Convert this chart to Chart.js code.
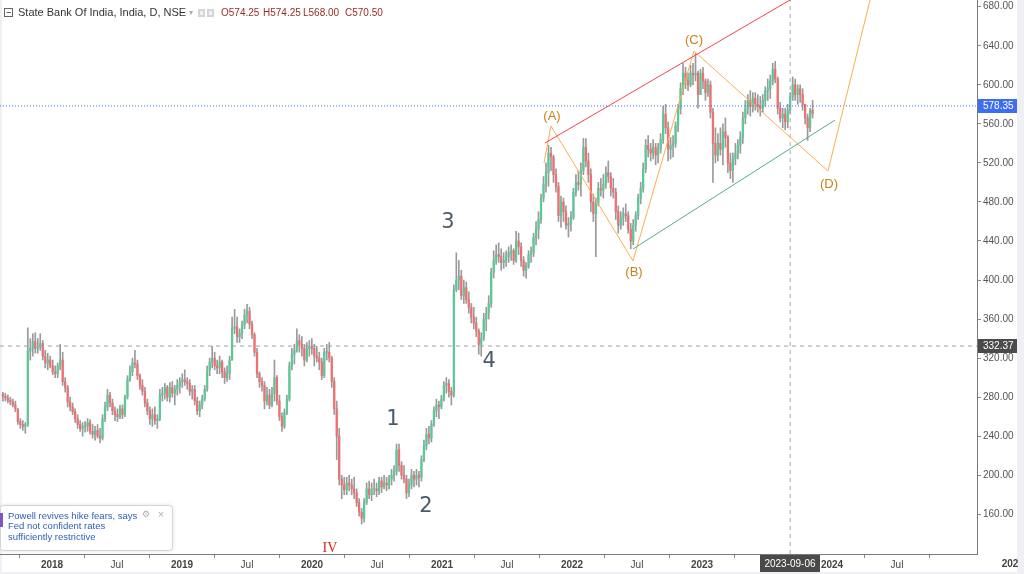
<!DOCTYPE html>
<html>
<head>
<meta charset="utf-8">
<script src="https://cdn.jsdelivr.net/npm/chart.js@4.4.0/dist/chart.umd.min.js"></script>
<style>
  html, body { margin: 0; padding: 0; background: #fff; }
</style>
</head>
<body>
<canvas id="sbiChart" width="1024" height="574"></canvas>
<script>
// --- data (weekly candles: [high, low, close], open = previous close) ---
const firstWeek = Date.UTC(2017, 7, 14);
const firstOpen = 283;

const w2017 = [
  [285,276,281],[284,276,279],[282,274,277],[280,272,275],[278,270,272],[276,265,268],[268,252,255],[258,248,252],[256,246,250],[254,243,252],
  [351,250,327],[340,318,330],[345,322,337],[346,325,330],[340,325,332],[345,328,335],[338,318,322],[328,310,315],[325,308,318],[322,310,312]
];
const w2018 = [
  [318,303,306],[312,300,304],[315,300,312],[334,308,318],[326,292,296],[300,285,290],[292,270,275],[280,266,270],[274,262,265],[268,254,258],
  [262,248,252],[256,245,248],[254,240,250],[255,244,250],[258,245,254],[257,242,245],[252,238,242],[250,236,246],[252,238,240],[248,233,238],
  [262,236,258],[275,255,270],[288,266,282],[285,270,274],[278,262,266],[270,256,262],[268,255,260],[272,258,268],[272,258,262],[282,260,280],
  [302,278,298],[312,296,306],[320,302,315],[328,310,314],[318,298,302],[304,288,292],[298,282,286],[290,270,274],[278,262,266],[270,252,258],
  [268,250,262],[270,252,256],[262,248,258],[288,256,282],[290,276,284],[294,278,290],[292,276,280],[295,275,290],[296,280,284],[292,272,288],
  [298,282,292],[300,284,296]
];
const w2019 = [
  [304,290,298],[308,292,296],[300,288,294],[298,282,286],[292,278,288],[292,272,276],[280,262,266],[276,260,272],[282,268,278],[292,276,288],
  [312,286,308],[320,302,316],[332,310,320],[326,308,312],[318,304,310],[322,304,316],[318,300,306],[310,294,300],[312,296,304],[322,298,318],
  [362,318,350],[370,345,352],[362,336,342],[350,336,346],[358,340,354],[370,350,364],[375,356,368],[372,350,355],[358,340,344],[346,322,326],
  [330,300,304],[306,290,296],[300,286,292],[296,268,276],[290,272,282],[288,268,272],[290,270,284],[318,276,300],[302,272,276],[282,256,260],
  [264,245,250],[268,248,264],[282,262,278],[316,276,312],[330,308,324],[334,314,328],[350,326,338],[344,326,334],[342,322,330],[334,312,318],
  [336,316,330],[338,322,332]
];
const w2020 = [
  [340,324,330],[334,312,322],[332,316,320],[326,308,316],[320,298,302],[330,300,326],[334,318,326],[336,316,320],[322,290,296],[300,262,268],
  [276,216,240],[248,190,196],[200,176,190],[198,180,185],[198,180,192],[200,184,190],[196,180,186],[198,176,182],[186,168,172],[176,158,162],
  [166,150,156],[176,152,172],[192,170,186],[194,176,180],[192,174,186],[196,180,186],[192,178,184],[198,180,194],[198,182,188],[200,186,192],
  [198,184,190],[200,186,196],[206,190,200],[210,194,204],[232,200,226],[232,204,210],[214,196,200],[210,192,196],[200,176,182],[196,178,190],
  [206,186,200],[204,188,196],[206,190,200],[204,188,198],[220,194,216],[236,214,230],[248,226,242],[250,232,238],[256,234,252],[270,250,266],
  [278,260,272],[276,258,270]
];
const w2021 = [
  [282,268,278],[296,276,292],[300,284,294],[298,280,286],[290,272,282],[395,280,390],[428,388,400],[420,390,404],[410,380,384],[400,376,392],
  [398,376,380],[388,366,372],[376,356,362],[372,350,356],[362,342,348],[350,324,334],[346,322,340],[366,338,360],[372,348,366],[384,360,376],
  [412,372,408],[430,402,420],[436,416,426],[438,418,424],[432,410,418],[428,412,420],[430,414,424],[434,418,428],[436,420,430],[432,416,420],
  [450,418,440],[448,426,434],[438,414,420],[424,404,410],[418,402,414],[430,412,426],[434,418,428],[448,424,444],[460,436,452],[470,442,462],
  [488,458,484],[506,480,498],[520,490,510],[538,496,530],[536,512,526],[528,500,508],[514,490,496],[500,460,466],[486,454,480],[484,460,470],
  [476,452,456],[464,444,458]
];
const w2022 = [
  [470,450,464],[494,462,490],[508,486,500],[512,492,498],[520,486,512],[545,508,536],[545,516,522],[530,500,508],[514,470,480],[488,460,468],
  [484,424,478],[500,476,494],[504,486,492],[508,484,498],[516,494,510],[522,500,506],[510,486,494],[504,484,490],[494,462,470],[476,448,456],
  [470,452,464],[474,456,468],[478,460,466],[470,448,452],[458,432,440],[462,436,456],[470,450,466],[488,462,484],[500,478,494],[520,490,514],
  [544,510,538],[548,526,534],[540,522,530],[544,524,536],[540,518,528],[540,520,534],[550,530,544],[578,540,570],[580,550,556],[562,522,534],
  [546,524,538],[548,526,540],[562,536,558],[580,552,576],[602,570,596],[622,590,612],[618,596,604],[612,594,600],[620,598,612],[622,600,610],
  [632,604,612],[614,576,590]
];
const w2023 = [
  [616,590,612],[618,596,604],[606,584,592],[606,588,600],[604,566,572],[576,500,540],[556,520,528],[550,522,540],[556,528,534],[560,518,552],
  [566,536,546],[548,510,520],[530,504,512],[530,500,524],[540,518,530],[544,524,538],[552,530,546],[572,540,566],[584,560,576],[590,570,584],
  [594,568,578],[592,572,586],[592,574,580],[590,572,578],[588,568,576],[590,572,584],[598,578,594],[606,584,596],[610,586,604],[622,600,616],
  [624,602,606],[608,570,576],[582,562,566],[576,556,570],[576,554,562],[580,556,574],[592,570,588],[608,584,600],[606,584,590],[600,580,596],
  [600,582,590],[596,574,580],[580,560,566],[570,543,556],[576,552,574],[584,566,570.5]
];

// drawings (x in years, y in price)
const redTrend = [[2021.792, 540.4], [2023.754, 692.9]];
const greenTrend = [[2022.469, 431.8], [2024.023, 563.9]];
const orangeWave = [[2021.785, 520.0], [2021.838, 557.9], [2022.469, 419.6], [2022.938, 634.6], [2023.969, 511.7], [2024.308, 695.2]];
const numberLabels = [['1', 2020.623, 256.6], ['2', 2020.877, 167.5], ['3', 2021.046, 458.4], ['4', 2021.362, 316.0]];
const letterLabels = [['(A)', 2021.846, 568.0], ['(B)', 2022.477, 408.2], ['(C)', 2022.938, 645.9], ['(D)', 2023.977, 498.4]];
const romanLabel = ['IV', 2020.138, 125.5];

const lastPrice = 578.35;
const markedPrice = 332.37;
const cursorDate = '2023-09-06';

const yTickValues = [160, 200, 240, 280, 320, 360, 400, 440, 480, 520, 560, 600, 640, 680];
const xTickValues = [2018, 2018.5, 2019, 2019.5, 2020, 2020.5, 2021, 2021.5, 2022, 2022.5, 2023, 2023.5, 2024, 2024.5];
const xTickLabels = ['2018', 'Jul', '2019', 'Jul', '2020', 'Jul', '2021', 'Jul', '2022', 'Jul', '2023', 'Jul', '2024', 'Jul'];

const titleText = 'State Bank Of India, India, D, NSE';
const ohlcText = ['O574.25', 'H574.25', 'L568.00', 'C570.50'];
const newsLines = ['Powell revives hike fears, says', 'Fed not confident rates', 'sufficiently restrictive'];

// --- build ---
const DAY = 86400000;
function toYear(ms) { return 1970 + ms / (365.25 * DAY); }
const candles = [...w2017, ...w2018, ...w2019, ...w2020, ...w2021, ...w2022, ...w2023];

const wickData = [], bodyData = [], bodyColors = [];
let prevClose = firstOpen;
candles.forEach(([h, l, c], i) => {
    const x = toYear(firstWeek + (i * 7 + 2) * DAY);
    wickData.push({ x: x, y: [l, h] });
    bodyData.push({ x: x, y: [prevClose, c] });
    bodyColors.push(c >= prevClose ? '#5cc898' : '#ee7070');
    prevClose = c;
});

const xMin = 2017.6, xMax = 2017.6 + 977 / 130;
const yMin = 119.3, yMax = 686.9;
const cursorYear = toYear(Date.parse(cursorDate));
const pts = arr => arr.map(p => ({ x: p[0], y: p[1] }));

function lineSet(data, color, dash, order) {
    return { type: 'line', data: data, borderColor: color, borderWidth: 1, borderDash: dash || [],
             pointRadius: 0, tension: 0, order: order || 1 };
}

const FONT = '"Liberation Sans", Arial, sans-serif';

const overlay = {
    id: 'overlay',
    beforeDraw(chart) {
        const c = chart.ctx;
        c.save();
        c.fillStyle = '#fff';
        c.fillRect(0, 0, chart.width, chart.height);
        c.fillStyle = '#eef0f3';
        c.fillRect(1017, 0, 7, chart.height);
        c.fillRect(0, 572, chart.width, 2);
        c.fillRect(0, 0, 2, chart.height);
        c.restore();
    },
    afterDraw(chart) {
        const c = chart.ctx, xs = chart.scales.x, ys = chart.scales.y;
        c.save();
        c.textBaseline = 'middle';

        // wave counts
        c.textAlign = 'center';
        c.fillStyle = '#4b5a6b';
        c.font = '21px "DejaVu Sans", sans-serif';
        numberLabels.forEach(([t, x, y]) => c.fillText(t, xs.getPixelForValue(x), ys.getPixelForValue(y)));
        c.fillStyle = '#c8821a';
        c.font = '13px ' + FONT;
        letterLabels.forEach(([t, x, y]) => c.fillText(t, xs.getPixelForValue(x), ys.getPixelForValue(y)));
        c.fillStyle = '#e3211c';
        c.font = '14px "Liberation Serif", serif';
        c.fillText(romanLabel[0], xs.getPixelForValue(romanLabel[1]), ys.getPixelForValue(romanLabel[2]));

        // price labels on the axis
        c.textAlign = 'left';
        c.font = '10px ' + FONT;
        [[lastPrice, '#3d6ef0'], [markedPrice, '#4a4a4a']].forEach(([v, bg]) => {
            const py = Math.round(ys.getPixelForValue(v));
            c.fillStyle = bg;
            c.fillRect(978, py - 7, 39, 14);
            c.fillStyle = '#fff';
            c.fillText(v.toFixed(2), 983, py + 0.5);
        });

        // cursor date label
        const cx = Math.round(xs.getPixelForValue(cursorYear));
        c.fillStyle = '#4a4a4a';
        c.fillRect(cx - 30, 555, 60, 17);
        c.fillStyle = '#fff';
        c.textAlign = 'center';
        c.fillText(cursorDate, cx, 564);

        // clipped year label at far right
        c.fillStyle = '#444';
        c.font = 'bold 10px ' + FONT;
        c.fillText('202', 1010, 564);

        // header
        c.strokeStyle = '#666';
        c.lineWidth = 1;
        c.strokeRect(4.5, 8.5, 8, 8);
        c.beginPath(); c.moveTo(6.5, 12.5); c.lineTo(11, 12.5); c.stroke();
        c.textAlign = 'left';
        c.fillStyle = '#333';
        c.font = '11px ' + FONT;
        c.fillText(titleText, 18, 13);
        c.fillStyle = '#aaa';
        c.font = '8px ' + FONT;
        c.fillText('\u25BE', 189, 13);
        c.fillStyle = '#d5d5d5';
        c.fillRect(198, 9, 7, 8);
        c.fillRect(207, 9, 7, 8);
        c.fillStyle = '#f2f2f2';
        c.fillRect(200, 11, 3, 4);
        c.fillRect(209, 11, 3, 4);
        c.fillStyle = '#9b2b26';
        c.font = '10px ' + FONT;
        [221, 263, 303, 345].forEach((x, i) => c.fillText(ohlcText[i], x, 13));

        // news popup
        c.shadowColor = 'rgba(0,0,0,0.15)';
        c.shadowBlur = 4;
        c.fillStyle = '#fff';
        c.beginPath();
        c.roundRect(0.5, 505.5, 172, 45, 3);
        c.fill();
        c.shadowBlur = 0;
        c.strokeStyle = '#d4d4d4';
        c.stroke();
        c.fillStyle = '#7e57c2';
        c.fillRect(0, 513, 3, 14);
        c.fillStyle = '#2f5fb3';
        c.font = '9.5px ' + FONT;
        newsLines.forEach((t, i) => c.fillText(t, 8, 516 + i * 10.5));
        c.fillStyle = '#b0b0b0';
        c.font = '9px "DejaVu Sans", sans-serif';
        c.textAlign = 'center';
        c.fillText('\u2699', 146, 515);
        c.font = '11px ' + FONT;
        c.fillText('\u00D7', 161, 515);
        c.restore();
    }
};

new Chart(document.getElementById('sbiChart'), {
    type: 'bar',
    data: {
        datasets: [
            lineSet(pts(redTrend), '#f0464f'),
            lineSet(pts(greenTrend), '#4fae8f'),
            lineSet(pts(orangeWave), '#f9b04f'),
            lineSet([{ x: xMin, y: lastPrice }, { x: xMax, y: lastPrice }], '#3d6ef0', [1, 2]),
            lineSet([{ x: xMin, y: markedPrice }, { x: xMax, y: markedPrice }], '#a0a0a0', [4, 4]),
            lineSet([{ x: cursorYear, y: yMin }, { x: cursorYear, y: yMax }], '#a8a8a8', [4, 4]),
            { data: bodyData, backgroundColor: bodyColors, barThickness: 1.6, grouped: false, minBarLength: 1, order: 5 },
            { data: wickData, backgroundColor: '#9a9a9c', barThickness: 1, grouped: false, order: 6 }
        ]
    },
    options: {
        responsive: false,
        animation: false,
        layout: { padding: 0 },
        plugins: { legend: { display: false }, tooltip: { enabled: false } },
        scales: {
            x: {
                type: 'linear', min: xMin, max: xMax, offset: false,
                afterBuildTicks: s => { s.ticks = xTickValues.map(v => ({ value: v })); },
                afterFit: s => { s.height = 20; s.paddingLeft = 0; s.paddingRight = 0; },
                ticks: {
                    autoSkip: false, maxRotation: 0, padding: 1, color: '#444',
                    callback: (v, i) => xTickLabels[i],
                    font: ctx => ({ size: 10, family: FONT, weight: ctx.index % 2 === 0 ? 'bold' : 'normal' })
                },
                grid: { drawOnChartArea: false, tickLength: 4, color: '#8a8a8a' },
                border: { color: '#7a7a7a' }
            },
            y: {
                type: 'linear', position: 'right', min: yMin, max: yMax,
                afterBuildTicks: s => { s.ticks = yTickValues.map(v => ({ value: v })); },
                afterFit: s => { s.width = 47; s.paddingTop = 0; s.paddingBottom = 0; },
                ticks: { padding: 2, color: '#555', font: { size: 10, family: FONT }, callback: v => v.toFixed(2) },
                grid: { drawOnChartArea: false, tickLength: 4, color: '#8a8a8a' },
                border: { color: '#7a7a7a' }
            }
        }
    },
    plugins: [overlay]
});
</script>
</body>
</html>
